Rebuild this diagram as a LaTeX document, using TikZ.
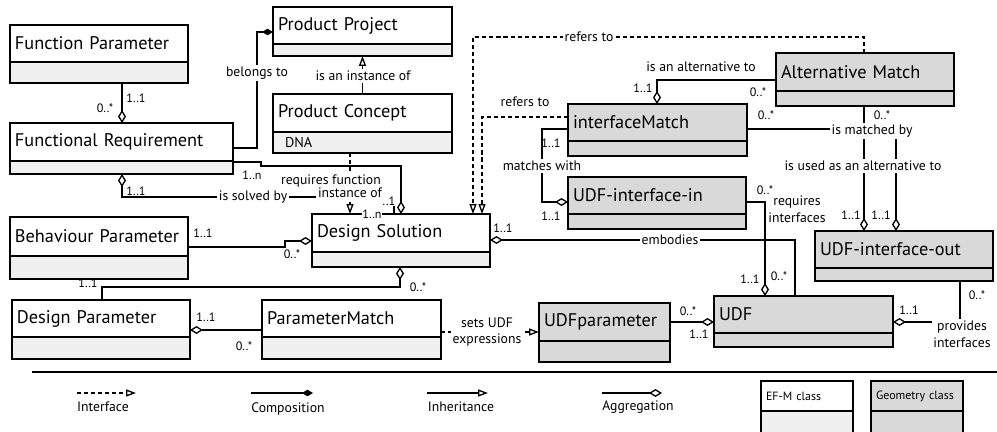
\documentclass[tikz,border=0pt]{standalone}
\usepackage{fontspec}
\setmainfont{PT Sans}
\usetikzlibrary{arrows.meta}
\definecolor{efmgray}{HTML}{F0F0F0}
\definecolor{geogray}{HTML}{D9D9D9}

\tikzset{
  ttl/.style={draw, line width=0.85pt, anchor=north west, outer sep=0pt, inner xsep=0.1cm, inner ysep=0pt, align=left, font=\fontsize{10.4}{12}\selectfont},
  att/.style={ttl, font=\fontsize{8.1}{10}\selectfont},
  agg/.style={-{Diamond[open,length=0.26cm,width=0.16cm]}},
  comp/.style={-{Diamond[length=0.22cm,width=0.13cm]}},
  inh/.style={-{Triangle[open,length=0.2cm,width=0.14cm]}},
  intf/.style={inh, dash pattern=on 2.3pt off 1.7pt},
  lbl/.style={fill=white, inner sep=1pt, align=center, font=\fontsize{7.8}{9.6}\selectfont},
  mult/.style={inner sep=0.5pt, font=\fontsize{6.9}{8}\selectfont},
}

\begin{document}
\begin{tikzpicture}[x=0.02cm, y=-0.02cm, line width=0.75pt]
\useasboundingbox (0,0) rectangle (997,432);
\clip (0,0) rectangle (997,432);

% EF-M classes
\node[ttl, text width=3.36cm, minimum height=0.74cm, fill=white] (fp) at (10,25) {Function Parameter};
\node[att, text width=3.36cm, minimum height=0.42cm, fill=efmgray] (fp-a) at (fp.south west) {};
\node[ttl, text width=4.26cm, minimum height=0.76cm, fill=white] (fr) at (10,123) {Functional Requirement};
\node[att, text width=4.26cm, minimum height=0.26cm, fill=efmgray] (fr-a) at (fr.south west) {};
\node[ttl, text width=3.38cm, minimum height=0.74cm, fill=white] (pp) at (273,7) {Product Project};
\node[att, text width=3.38cm, minimum height=0.24cm, fill=efmgray] (pp-a) at (pp.south west) {};
\node[ttl, text width=3.38cm, minimum height=0.76cm, fill=white] (pc) at (273,94) {Product Concept};
\node[att, text width=3.10cm, inner xsep=0.24cm, minimum height=0.42cm, fill=efmgray] (pc-a) at (pc.south west) {DNA};
\node[ttl, text width=3.36cm, minimum height=0.76cm, fill=white] (ds) at (312,214) {Design Solution};
\node[att, text width=3.36cm, minimum height=0.30cm, fill=efmgray] (ds-a) at (ds.south west) {};
\node[ttl, text width=3.36cm, minimum height=0.78cm, fill=white] (bp) at (10,217) {Behaviour Parameter};
\node[att, text width=3.36cm, minimum height=0.46cm, fill=efmgray] (bp-a) at (bp.south west) {};
\node[ttl, text width=3.36cm, minimum height=0.74cm, fill=white] (dp) at (12,300) {Design Parameter};
\node[att, text width=3.36cm, minimum height=0.44cm, fill=efmgray] (dp-a) at (dp.south west) {};
\node[ttl, text width=3.38cm, minimum height=0.74cm, fill=white] (pm) at (262,300) {ParameterMatch};
\node[att, text width=3.38cm, minimum height=0.44cm, fill=efmgray] (pm-a) at (pm.south west) {};

% Geometry classes
\node[ttl, text width=3.38cm, minimum height=0.74cm, fill=geogray] (im) at (568,104) {interfaceMatch};
\node[att, text width=3.38cm, minimum height=0.30cm, fill=geogray] (im-a) at (im.south west) {};
\node[ttl, text width=3.36cm, minimum height=0.74cm, fill=geogray] (uin) at (568,177) {UDF-interface-in};
\node[att, text width=3.36cm, minimum height=0.30cm, fill=geogray] (uin-a) at (uin.south west) {};
\node[ttl, text width=3.36cm, minimum height=0.76cm, fill=geogray] (am) at (776,53) {Alternative Match};
\node[att, text width=3.36cm, minimum height=0.30cm, fill=geogray] (am-a) at (am.south west) {};
\node[ttl, text width=3.36cm, minimum height=0.74cm, fill=geogray] (uout) at (815,231) {UDF-interface-out};
\node[att, text width=3.36cm, minimum height=0.26cm, fill=geogray] (uout-a) at (uout.south west) {};
\node[ttl, text width=2.42cm, minimum height=0.76cm, fill=geogray] (udfp) at (539,303) {UDFparameter};
\node[att, text width=2.42cm, minimum height=0.42cm, fill=geogray] (udfp-a) at (udfp.south west) {};
\node[ttl, text width=3.38cm, minimum height=0.74cm, fill=geogray] (udf) at (714,296) {UDF};
\node[att, text width=3.38cm, minimum height=0.28cm, fill=geogray] (udf-a) at (udf.south west) {};

% Connectors
\draw[agg] (fp-a.south -| 122,0) -- (fr.north -| 122,0);
\draw[comp] (fr.east |- 0,148) -| (257,32) -- (pp.west |- 0,32);
\draw[inh] (pc.north) -- (pp-a.south);
\draw[agg] (fr-a.east |- 0,162) -- (261,162) -- (261,166) -| (ds.north -| 401,0);
\draw[intf] (pc-a.south -| 350,0) -- (ds.north -| 350,0);
\draw[agg] (ds.north -| 394,0) |- (122,197) -- (fr-a.south -| 122,0);
\draw[agg] (bp.east |- 0,247) -- (285,247) |- (ds.west |- 0,241);
\draw[agg] (dp.north -| 102,0) |- (400,287) -- (ds-a.south -| 400,0);
\draw[agg] (pm.west |- 0,330) -- (dp.east |- 0,330);
\draw[intf] (pm.east |- 0,332) -- (udfp.west |- 0,332);
\draw[agg] (udfp.east |- 0,322) -- (udf.west |- 0,322);
\draw[agg] (udf.north -| 795,0) |- (ds.east |- 0,240);
\draw[agg] (uin.east |- 0,202) -| (udf.north -| 765,0);
\draw[agg] (im.west |- 0,129) -- (542,129) |- (uin.west |- 0,202);
\draw[agg] (am.west |- 0,80) -| (im.north -| 657,0);
\draw[agg] (im.east |- 0,129) -| (uout.north -| 896,0);
\draw[agg] (am-a.south -| 864,0) -- (uout.north -| 864,0);
\draw[intf] (am.north -| 864,0) |- (473,37) -- (ds.north -| 473,0);
\draw[intf] (im.west |- 0,117) -| (ds.north -| 482,0);
\draw[agg] (uout-a.south -| 960,0) |- (udf.east |- 0,322);

% Connector labels
\node[lbl] (l-belongs) at (257,73) {belongs to};
\node[lbl] (l-inst) at (363,76) {is an instance of};
\node[lbl] (l-reqf) at (331,181) {requires function};
\node[lbl] (l-instof) at (350,193) {instance of};
\node[lbl] (l-solved) at (253,197) {is solved by};
\node[lbl] (l-sets) at (487,332) {sets UDF\\expressions};
\node[lbl] (l-emb) at (670,240) {embodies};
\node[lbl] (l-reqi) at (797,209) {requires\\interfaces};
\node[lbl] (l-match) at (542,166) {matches with};
\node[lbl] (l-alt) at (701,67) {is an alternative to};
\node[lbl] (l-matched) at (872,131) {is matched by};
\node[lbl] (l-used) at (863,166) {is used as an alternative to};
\node[lbl] (l-ref1) at (589,37) {refers to};
\node[lbl] (l-ref2) at (525,102) {refers to};
\node[lbl] (l-prov) at (962,334) {provides\\interfaces};

% Multiplicities
\node[mult] (m1) at (136,98) {1..1};
\node[mult] (m2) at (105,108) {0..*};
\node[mult] (m3) at (252,175) {1..n};
\node[mult, fill=white] (m4) at (389,201) {..1};
\node[mult, fill=white] (m5) at (372,214) {1..n};
\node[mult] (m6) at (136,191) {1..1};
\node[mult] (m7) at (203,233) {1..1};
\node[mult] (m8) at (292,254) {0..*};
\node[mult] (m9) at (418,287) {0..*};
\node[mult] (m10) at (88,283) {1..1};
\node[mult] (m11) at (206,317) {1..1};
\node[mult] (m12) at (244,346) {0..*};
\node[mult] (m13) at (688,311) {0..*};
\node[mult] (m14) at (699,334) {1..1};
\node[mult] (m15) at (503,228) {1..1};
\node[mult] (m16) at (765,190) {0..*};
\node[mult] (m17) at (750,279) {1..1};
\node[mult] (m18) at (779,276) {0..*};
\node[mult] (m19) at (551,143) {1..1};
\node[mult] (m20) at (551,216) {1..1};
\node[mult] (m21) at (643,88) {1..1};
\node[mult] (m22) at (758,92) {0..*};
\node[mult] (m23) at (766,115) {0..*};
\node[mult] (m24) at (882,115) {0..*};
\node[mult] (m25) at (881,215) {1..1};
\node[mult] (m26) at (851,215) {1..1};
\node[mult] (m27) at (909,310) {1..1};
\node[mult] (m28) at (977,295) {0..*};

% Legend
\draw (32,372) -- (997,372);
\coordinate (lg-i1) at (77,393);   \coordinate (lg-i2) at (136,393);
\coordinate (lg-c1) at (251,393);  \coordinate (lg-c2) at (313,393);
\coordinate (lg-h1) at (427,393);  \coordinate (lg-h2) at (488,393);
\coordinate (lg-a1) at (602,393);  \coordinate (lg-a2) at (662,393);
\draw[intf] (lg-i1) -- (lg-i2);
\draw[comp] (lg-c1) -- (lg-c2);
\draw[inh] (lg-h1) -- (lg-h2);
\draw[agg] (lg-a1) -- (lg-a2);
\node[lbl] (lg-intf) at (103,407) {Interface};
\node[lbl] (lg-comp) at (288,409) {Composition};
\node[lbl] (lg-inh) at (461,407) {Inheritance};
\node[lbl] (lg-agg) at (638,407) {Aggregation};
\node[ttl, text width=1.64cm, minimum height=0.6cm, fill=white, font=\fontsize{6.8}{8}\selectfont] (lg-efm) at (761,381) {EF-M class};
\node[att, text width=1.64cm, minimum height=0.6cm, fill=efmgray] (lg-efm-a) at (lg-efm.south west) {};
\node[ttl, text width=1.64cm, minimum height=0.6cm, fill=geogray, font=\fontsize{6.8}{8}\selectfont] (lg-geo) at (871,381) {Geometry class};
\node[att, text width=1.64cm, minimum height=0.6cm, fill=geogray] (lg-geo-a) at (lg-geo.south west) {};
\end{tikzpicture}
\end{document}
